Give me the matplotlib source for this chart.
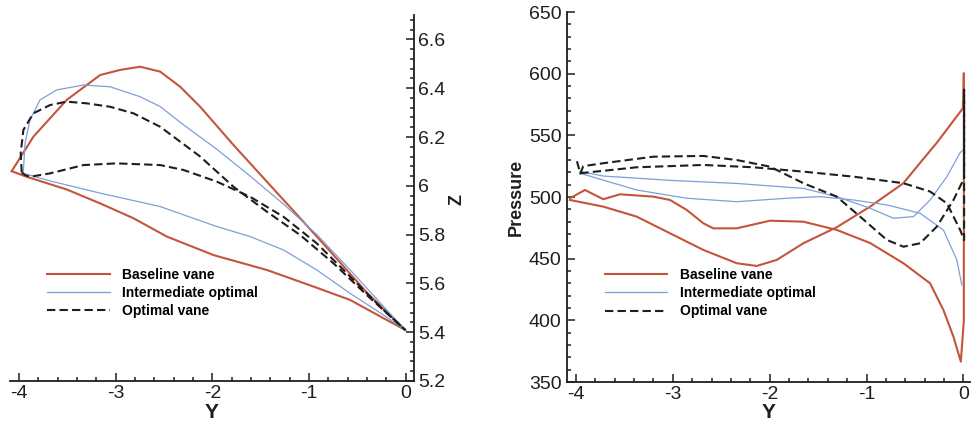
import matplotlib
matplotlib.use("Agg")
import matplotlib.pyplot as plt
from matplotlib.ticker import MultipleLocator

plt.rcParams["font.family"] = ["Liberation Sans", "DejaVu Sans"]
plt.rcParams["axes.unicode_minus"] = False

# ---- left panel: vane profiles (Y, Z) ----
base_up_y = [-4.076, -3.852, -3.507, -3.161, -2.954, -2.747, -2.540, -2.333, -2.126,
             -1.781, -1.436, -1.091, -0.746, -0.401, -0.004]
base_up_z = [6.060, 6.201, 6.352, 6.454, 6.475, 6.488, 6.468, 6.406, 6.324,
             6.167, 6.017, 5.867, 5.716, 5.562, 5.409]
base_lo_y = [-4.076, -3.921, -3.507, -3.161, -2.816, -2.471, -1.988, -1.436, -0.953,
             -0.574, -0.228, -0.004]
base_lo_z = [6.060, 6.037, 5.985, 5.928, 5.867, 5.792, 5.716, 5.655, 5.587,
             5.532, 5.457, 5.409]

inter_up_y = [-3.955, -3.938, -3.886, -3.783, -3.610, -3.334, -3.058, -2.747, -2.540,
              -2.299, -1.954, -1.609, -1.264, -0.919, -0.574, -0.228, -0.004]
inter_up_z = [6.060, 6.174, 6.270, 6.352, 6.393, 6.413, 6.406, 6.365, 6.325,
              6.250, 6.150, 6.040, 5.925, 5.800, 5.655, 5.505, 5.409]
inter_lo_y = [-3.955, -3.679, -3.161, -2.540, -1.954, -1.609, -1.264, -0.919, -0.574,
              -0.228, -0.004]
inter_lo_z = [6.051, 6.020, 5.970, 5.915, 5.833, 5.792, 5.737, 5.655, 5.559,
              5.470, 5.409]

opt_up_y = [-3.972, -3.983, -3.955, -3.852, -3.679, -3.507, -3.300, -3.058, -2.816,
            -2.540, -2.126, -1.781, -1.436, -1.091, -0.746, -0.401, -0.004]
opt_up_z = [6.055, 6.133, 6.229, 6.297, 6.331, 6.345, 6.338, 6.324, 6.297,
            6.242, 6.120, 5.996, 5.894, 5.798, 5.682, 5.552, 5.409]
opt_lo_y = [-3.972, -3.938, -3.886, -3.679, -3.334, -2.989, -2.540, -2.299, -1.954,
            -1.609, -1.264, -0.919, -0.574, -0.228, -0.004]
opt_lo_z = [6.055, 6.044, 6.037, 6.051, 6.085, 6.092, 6.085, 6.065, 6.017,
            5.955, 5.873, 5.764, 5.628, 5.491, 5.409]

# ---- right panel: surface pressure (Y, Pressure) ----
pbase_a_y = [-4.062, -3.907, -3.718, -3.545, -3.201, -3.029, -2.856, -2.685, -2.582,
             -2.340, -1.996, -1.652, -1.307, -0.963, -0.619, -0.343, -0.206, -0.102,
             -0.026, 0.005, 0.005]
pbase_a_p = [499.0, 505.7, 498.2, 502.2, 500.3, 497.6, 489.5, 478.7, 474.6,
             474.6, 480.8, 480.0, 473.3, 462.7, 446.3, 430.0, 408.4, 386.7,
             366.5, 400.0, 600.0]
pbase_b_y = [0.005, -0.005, -0.033, -0.274, -0.412, -0.619, -0.963, -1.307, -1.652,
             -1.927, -2.133, -2.340, -2.685, -3.029, -3.373, -3.718, -4.062]
pbase_b_p = [600.0, 572.0, 569.0, 544.0, 531.0, 511.2, 492.2, 475.5, 462.5,
             449.0, 444.1, 446.3, 457.1, 470.6, 484.1, 492.2, 497.6]

pinter_a_y = [-3.959, -3.718, -3.029, -2.340, -1.652, -1.307, -0.963, -0.722, -0.515,
              -0.343, -0.170, -0.033, -0.005]
pinter_a_p = [520.6, 517.0, 513.5, 511.0, 507.0, 500.3, 490.9, 482.8, 484.1,
              497.6, 516.5, 536.0, 538.0]
pinter_b_y = [-3.959, -3.373, -2.856, -2.340, -1.823, -1.479, -1.135, -0.790, -0.446,
              -0.206, -0.067, -0.016]
pinter_b_p = [519.3, 505.7, 499.0, 496.2, 499.0, 500.3, 497.6, 493.6, 486.8,
              473.3, 449.0, 428.7]

popt_a_y = [-3.990, -3.955, -3.925, -3.718, -3.201, -2.685, -2.340, -1.996, -1.652,
            -1.307, -1.066, -0.790, -0.619, -0.446, -0.274, -0.102, 0.008]
popt_a_p = [529.0, 519.0, 525.0, 527.4, 532.7, 533.3, 530.0, 524.6, 511.2,
            500.3, 484.1, 465.2, 459.7, 462.5, 476.0, 497.6, 515.2]
popt_b_y = [-3.955, -3.373, -2.685, -2.168, -1.652, -1.135, -0.619, -0.343, -0.170,
            -0.033, 0.008, 0.008, 0.008]
popt_b_p = [519.3, 524.1, 526.0, 524.1, 520.6, 516.5, 511.2, 504.4, 494.9,
            473.3, 465.0, 587.0, 515.2]

labels = ["Baseline vane", "Intermediate optimal", "Optimal vane"]

RED = "#c4553a"
BLUE = "#7f9fd8"
INK = "#1e1e1e"
red_kw = dict(color=RED, lw=1.5)
blue_kw = dict(color=BLUE, lw=0.9)
black_kw = dict(color=INK, lw=1.5, linestyle=(0, (4, 2)))


def style_axes(ax):
    ax.xaxis.set_major_locator(MultipleLocator(1))
    ax.xaxis.set_minor_locator(MultipleLocator(0.2))
    ax.tick_params(which="both", direction="in", width=1.1, colors=INK,
                   labelsize=14, pad=3)
    ax.tick_params(which="major", length=5.5)
    ax.tick_params(which="minor", length=3)
    for s in ax.spines.values():
        s.set_linewidth(1.3)
        s.set_color(INK)


fig = plt.figure(figsize=(9.75, 4.23), dpi=100)

# left panel
ax1 = fig.add_axes([0.0103, 0.0993, 0.4143, 0.8652])
ax1.plot(base_up_y, base_up_z, label=labels[0], **red_kw)
ax1.plot(base_lo_y, base_lo_z, **red_kw)
ax1.plot(inter_up_y, inter_up_z, label=labels[1], **blue_kw)
ax1.plot(inter_lo_y, inter_lo_z, **blue_kw)
ax1.plot(opt_up_y, opt_up_z, label=labels[2], **black_kw)
ax1.plot(opt_lo_y, opt_lo_z, **black_kw)
ax1.set_xlim(-4.093, 0.086)
ax1.set_ylim(5.2, 6.7)
ax1.yaxis.set_major_locator(MultipleLocator(0.2))
ax1.yaxis.set_minor_locator(MultipleLocator(0.04))
ax1.yaxis.set_major_formatter(plt.FuncFormatter(lambda v, p: f"{v:g}"))
ax1.yaxis.tick_right()
ax1.spines["top"].set_visible(False)
ax1.spines["left"].set_visible(False)
style_axes(ax1)
ax1.set_xlabel("Y", fontsize=15, fontweight="bold", color=INK)
ax1.xaxis.set_label_coords(0.5, -0.06)
ax1.yaxis.set_label_position("right")
ax1.set_ylabel("Z", fontsize=13, fontweight="bold", color=INK)
ax1.yaxis.set_label_coords(1.086, 0.495)
ax1.legend(loc="upper left", bbox_to_anchor=(0.0916, 0.31), frameon=False,
           borderpad=0, borderaxespad=0, handlelength=4.5, handletextpad=0.9,
           labelspacing=0.3, prop=dict(size=10, weight="bold"))

# right panel
ax2 = fig.add_axes([0.5815, 0.0969, 0.4134, 0.8747])
ax2.plot(pbase_a_y, pbase_a_p, label=labels[0], **red_kw)
ax2.plot(pbase_b_y, pbase_b_p, **red_kw)
ax2.plot(pinter_a_y, pinter_a_p, label=labels[1], **blue_kw)
ax2.plot(pinter_b_y, pinter_b_p, **blue_kw)
ax2.plot(popt_a_y, popt_a_p, label=labels[2], **black_kw)
ax2.plot(popt_b_y, popt_b_p, **black_kw)
ax2.set_xlim(-4.093, 0.069)
ax2.set_ylim(350, 650)
ax2.yaxis.set_major_locator(MultipleLocator(50))
ax2.yaxis.set_minor_locator(MultipleLocator(10))
ax2.spines["top"].set_visible(False)
ax2.spines["right"].set_visible(False)
style_axes(ax2)
ax2.tick_params(axis="y", pad=4)
ax2.set_xlabel("Y", fontsize=15, fontweight="bold", color=INK)
ax2.xaxis.set_label_coords(0.5, -0.058)
ax2.set_ylabel("Pressure", fontsize=13, fontweight="bold", color=INK)
ax2.yaxis.set_label_coords(-0.105, 0.5)
ax2.legend(loc="upper left", bbox_to_anchor=(0.094, 0.308), frameon=False,
           borderpad=0, borderaxespad=0, handlelength=4.5, handletextpad=0.9,
           labelspacing=0.3, prop=dict(size=10, weight="bold"))

fig.savefig("out.png", dpi=100)
